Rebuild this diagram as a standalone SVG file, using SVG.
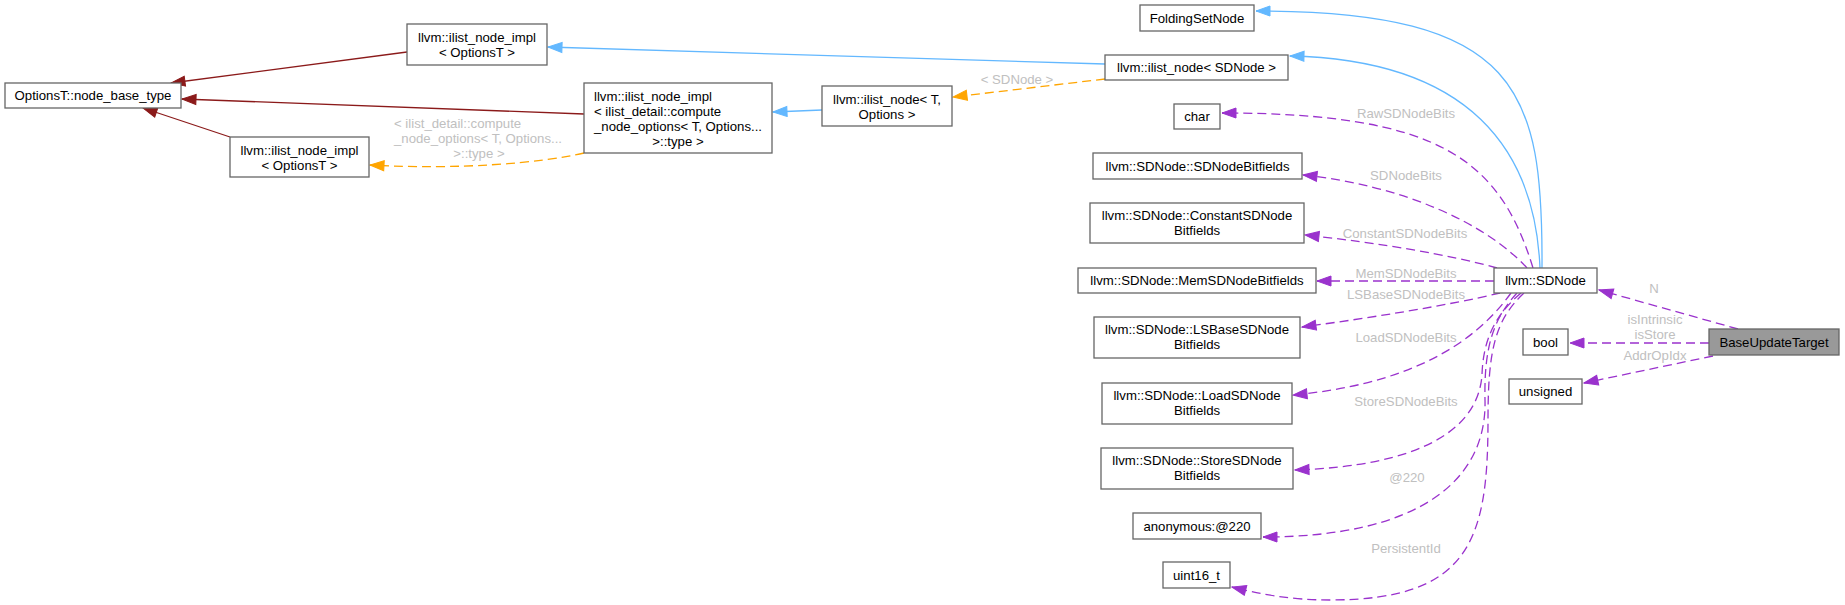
<svg xmlns="http://www.w3.org/2000/svg" width="1845" height="605" viewBox="0 0 1845 605">
<style>
.n rect{fill:#ffffff;stroke:#666666;stroke-width:1.3}
.n text{font-family:"Liberation Sans",Arial,sans-serif;font-size:13.2px;fill:#000000}
.c{text-anchor:middle}
.e path{fill:none;stroke-width:1.3}
.bl{stroke:#63B8FF}
.rd{stroke:#8B1A1A}
.or{stroke:#FFA500;stroke-dasharray:9,5}
.pu{stroke:#9A32CD;stroke-dasharray:9,5}
.lb{font-family:"Liberation Sans",Arial,sans-serif;font-size:13.2px;fill:#C0C0C0}
</style>
<defs>
<marker id="mBl" markerUnits="userSpaceOnUse" markerWidth="16" markerHeight="12" refX="14" refY="5" orient="auto" overflow="visible"><path d="M0,0 L14,5 L0,10 Z" fill="#63B8FF" stroke="#63B8FF" stroke-width="1"/></marker>
<marker id="mRd" markerUnits="userSpaceOnUse" markerWidth="16" markerHeight="12" refX="14" refY="5" orient="auto" overflow="visible"><path d="M0,0 L14,5 L0,10 Z" fill="#8B1A1A" stroke="#8B1A1A" stroke-width="1"/></marker>
<marker id="mOr" markerUnits="userSpaceOnUse" markerWidth="16" markerHeight="12" refX="14" refY="5" orient="auto" overflow="visible"><path d="M0,0 L14,5 L0,10 Z" fill="#FFA500" stroke="#FFA500" stroke-width="1"/></marker>
<marker id="mPu" markerUnits="userSpaceOnUse" markerWidth="16" markerHeight="12" refX="14" refY="5" orient="auto" overflow="visible"><path d="M0,0 L14,5 L0,10 Z" fill="#9A32CD" stroke="#9A32CD" stroke-width="1"/></marker>
</defs>
<rect width="1845" height="605" fill="#ffffff"/>

<g id="edges" class="e">
<path class="bl" d="M1542,268 C1543,90 1520,11 1256,11" marker-end="url(#mBl)"/>
<path class="bl" d="M1540,268 C1535,150 1470,60 1290,56" marker-end="url(#mBl)"/>
<path class="bl" d="M1105,64 L548,47" marker-end="url(#mBl)"/>
<path class="bl" d="M822,110 L773,112" marker-end="url(#mBl)"/>
<path class="rd" d="M407,52 L171,83" marker-end="url(#mRd)"/>
<path class="rd" d="M584,114 L182,99" marker-end="url(#mRd)"/>
<path class="rd" d="M230,137 L143,108" marker-end="url(#mRd)"/>
<path class="or" d="M1105,79 L953,97" marker-end="url(#mOr)"/>
<path class="or" d="M584,153 C540,163 460,170 370,165" marker-end="url(#mOr)"/>
<path class="pu" d="M1533,268 C1500,160 1440,113 1222,113" marker-end="url(#mPu)"/>
<path class="pu" d="M1527,268 C1485,222 1400,185 1303,175" marker-end="url(#mPu)"/>
<path class="pu" d="M1497,268 C1450,255 1380,243 1305,235" marker-end="url(#mPu)"/>
<path class="pu" d="M1494,281 L1317,281" marker-end="url(#mPu)"/>
<path class="pu" d="M1500,293 C1450,305 1370,318 1302,327" marker-end="url(#mPu)"/>
<path class="pu" d="M1511,293 C1470,350 1400,385 1293,395" marker-end="url(#mPu)"/>
<path class="pu" d="M1521,293 C1495,315 1483,340 1482,375 C1478,430 1420,466 1295,470" marker-end="url(#mPu)"/>
<path class="pu" d="M1517,293 C1492,320 1484,350 1485,400 C1487,480 1420,537 1263,537" marker-end="url(#mPu)"/>
<path class="pu" d="M1524,293 C1495,320 1488,350 1488,420 C1488,540 1470,600 1330,600 C1290,600 1260,594 1232,587" marker-end="url(#mPu)"/>
<path class="pu" d="M1738,329 L1599,290" marker-end="url(#mPu)"/>
<path class="pu" d="M1709,343 L1570,343" marker-end="url(#mPu)"/>
<path class="pu" d="M1713,356 L1584,383" marker-end="url(#mPu)"/>
<text class="lb c" x="1017" y="83.5">&lt; SDNode &gt;</text>
<text class="lb" x="394" y="127.5">&lt; ilist_detail::compute</text>
<text class="lb" x="394" y="142.5">_node_options&lt; T, Options...</text>
<text class="lb c" x="479" y="157.5">&gt;::type &gt;</text>
<text class="lb c" x="1406" y="117.5">RawSDNodeBits</text>
<text class="lb c" x="1406" y="179.5">SDNodeBits</text>
<text class="lb c" x="1405" y="237.5">ConstantSDNodeBits</text>
<text class="lb c" x="1406" y="277.5">MemSDNodeBits</text>
<text class="lb c" x="1406" y="298.5">LSBaseSDNodeBits</text>
<text class="lb c" x="1406" y="341.5">LoadSDNodeBits</text>
<text class="lb c" x="1406" y="405.5">StoreSDNodeBits</text>
<text class="lb c" x="1407" y="481.5">@220</text>
<text class="lb c" x="1406" y="552.5">PersistentId</text>
<text class="lb c" x="1654" y="292.5">N</text>
<text class="lb c" x="1655" y="323.5">isIntrinsic</text>
<text class="lb c" x="1655" y="338.5">isStore</text>
<text class="lb c" x="1655" y="359.5">AddrOpIdx</text>
</g>

<g id="node_base_type" class="n"><rect x="5" y="83" width="176" height="25"/><text class="c" x="93" y="100">OptionsT::node_base_type</text></g>
<g id="ilist_node_impl_top" class="n"><rect x="407" y="24" width="140" height="41"/><text class="c" x="477" y="42">llvm::ilist_node_impl</text><text class="c" x="477" y="57">&lt; OptionsT &gt;</text></g>
<g id="ilist_node_impl_bottom" class="n"><rect x="230" y="137" width="139" height="40"/><text class="c" x="299.5" y="154.5">llvm::ilist_node_impl</text><text class="c" x="299.5" y="169.5">&lt; OptionsT &gt;</text></g>
<g id="ilist_node_impl_compute" class="n"><rect x="584" y="83" width="188" height="70"/><text x="594" y="101">llvm::ilist_node_impl</text><text x="594" y="115.5">&lt; ilist_detail::compute</text><text x="594" y="130.5">_node_options&lt; T, Options...</text><text class="c" x="678" y="145.5">&gt;::type &gt;</text></g>
<g id="ilist_node_T" class="n"><rect x="822" y="86" width="130" height="40"/><text class="c" x="887" y="103.5">llvm::ilist_node&lt; T,</text><text class="c" x="887" y="118.5">Options &gt;</text></g>
<g id="ilist_node_SDNode" class="n"><rect x="1105" y="55" width="183" height="25"/><text class="c" x="1196.5" y="72">llvm::ilist_node&lt; SDNode &gt;</text></g>
<g id="FoldingSetNode" class="n"><rect x="1140" y="5" width="114" height="26"/><text class="c" x="1197" y="22.5">FoldingSetNode</text></g>
<g id="char" class="n"><rect x="1174" y="104" width="46" height="25"/><text class="c" x="1197" y="121">char</text></g>
<g id="SDNodeBitfields" class="n"><rect x="1093" y="153" width="209" height="26"/><text class="c" x="1197.5" y="170.5">llvm::SDNode::SDNodeBitfields</text></g>
<g id="ConstantSDNodeBitfields" class="n"><rect x="1090" y="203" width="214" height="40"/><text class="c" x="1197" y="219.5">llvm::SDNode::ConstantSDNode</text><text class="c" x="1197" y="234.5">Bitfields</text></g>
<g id="MemSDNodeBitfields" class="n"><rect x="1078" y="268" width="238" height="25"/><text class="c" x="1197" y="285">llvm::SDNode::MemSDNodeBitfields</text></g>
<g id="SDNode" class="n"><rect x="1494" y="268" width="103" height="25"/><text class="c" x="1545.5" y="285">llvm::SDNode</text></g>
<g id="LSBaseSDNodeBitfields" class="n"><rect x="1094" y="317" width="206" height="41"/><text class="c" x="1197" y="333.5">llvm::SDNode::LSBaseSDNode</text><text class="c" x="1197" y="348.5">Bitfields</text></g>
<g id="LoadSDNodeBitfields" class="n"><rect x="1102" y="383" width="190" height="41"/><text class="c" x="1197" y="399.5">llvm::SDNode::LoadSDNode</text><text class="c" x="1197" y="414.5">Bitfields</text></g>
<g id="StoreSDNodeBitfields" class="n"><rect x="1101" y="448" width="192" height="41"/><text class="c" x="1197" y="464.5">llvm::SDNode::StoreSDNode</text><text class="c" x="1197" y="479.5">Bitfields</text></g>
<g id="anonymous220" class="n"><rect x="1133" y="513" width="128" height="26"/><text class="c" x="1197" y="530.5">anonymous:@220</text></g>
<g id="uint16_t" class="n"><rect x="1163" y="562" width="67" height="26"/><text class="c" x="1196.5" y="579.5">uint16_t</text></g>
<g id="bool" class="n"><rect x="1523" y="329" width="45" height="26"/><text class="c" x="1545.5" y="346.5">bool</text></g>
<g id="unsigned" class="n"><rect x="1509" y="379" width="73" height="25"/><text class="c" x="1545.5" y="396">unsigned</text></g>
<g id="BaseUpdateTarget" class="n"><rect x="1709" y="329" width="130" height="26" style="fill:#999999"/><text class="c" x="1774" y="346.5">BaseUpdateTarget</text></g>
</svg>
